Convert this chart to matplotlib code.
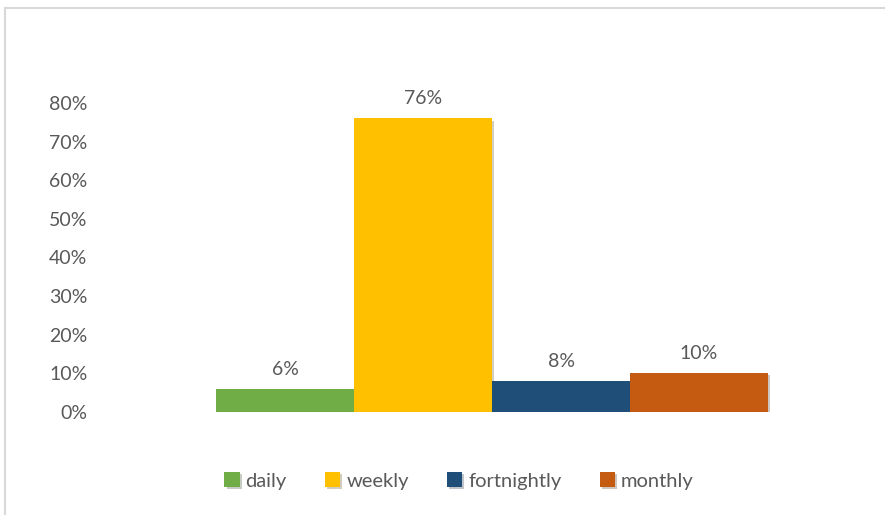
import matplotlib.pyplot as plt
import matplotlib.patheffects as pe
from matplotlib.patches import Rectangle

# frequency of use, share of respondents
categories = ['daily', 'weekly', 'fortnightly', 'monthly']
shares = [0.06, 0.76, 0.08, 0.10]
labels = ['6%', '76%', '8%', '10%']
colors = ['#70AD47', '#FFC000', '#1F4E79', '#C55A11']
yticks = [0, 0.1, 0.2, 0.3, 0.4, 0.5, 0.6, 0.7, 0.8]

plt.rcParams['font.family'] = ['Lato', 'DejaVu Sans']
grey = '#595959'

W, H = 885, 515
fig = plt.figure(figsize=(W / 100, H / 100), dpi=100)

# light chart-area border
fig.patches.append(Rectangle((5 / W, -0.1), 1.2, 1.1 - 8 / H, transform=fig.transFigure,
                             fill=False, edgecolor='#D9D9D9', linewidth=1.5))

ax = fig.add_axes([100 / W, 1 - 412 / H, 784 / W, 309 / H])
shadow = [pe.SimplePatchShadow(offset=(1.5, -1.5), alpha=0.25), pe.Normal()]
for i, (c, v) in enumerate(zip(categories, shares)):
    ax.bar(i, v, width=1.0, color=colors[i], label=c, path_effects=shadow)
    ax.annotate(labels[i], (i, v), xytext=(0, 8), textcoords='offset points',
                ha='center', va='bottom', fontsize=14, color=grey)

ax.set_xlim(-1.34, 4.34)
ax.set_ylim(0, 0.8)
ax.set_yticks(yticks)
ax.set_yticklabels([f'{int(round(t * 100))}%' for t in yticks])
ax.tick_params(axis='y', length=0, labelsize=14, labelcolor=grey, pad=9)
ax.set_xticks([])
for s in ax.spines.values():
    s.set_visible(False)

fig.legend(loc='center', bbox_to_anchor=(459 / W, 1 - 481 / H), ncol=4, frameon=False,
           fontsize=14.5, labelcolor=grey, handlelength=0.75, handleheight=0.75,
           handletextpad=0.3, columnspacing=1.9)

fig.savefig('out.png', dpi=100)
